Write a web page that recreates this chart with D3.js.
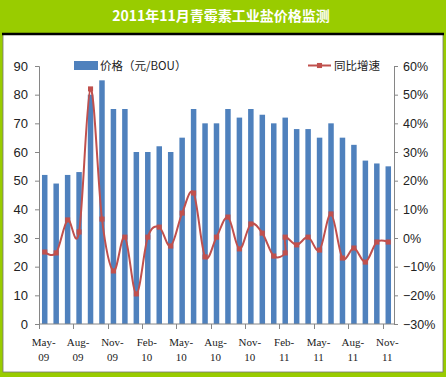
<!DOCTYPE html>
<html>
<head>
<meta charset="utf-8">
<script src="https://cdn.jsdelivr.net/npm/d3@7"></script>
<style>
  body { margin: 0; padding: 0; background: #fff; }
  svg { display: block; }
</style>
</head>
<body>
<div id="chart"></div>
<script>

var title = "2011年11月青霉素工业盐价格监测";

var months = ["May-09","Jun-09","Jul-09","Aug-09","Sep-09","Oct-09","Nov-09","Dec-09",
              "Jan-10","Feb-10","Mar-10","Apr-10","May-10","Jun-10","Jul-10","Aug-10",
              "Sep-10","Oct-10","Nov-10","Dec-10","Jan-11","Feb-11","Mar-11","Apr-11",
              "May-11","Jun-11","Jul-11","Aug-11","Sep-11","Oct-11","Nov-11"];

// 价格 (元/BOU), left axis
var price = [52, 49, 52, 53, 80, 85, 75, 75,
             60, 60, 62, 60, 65, 75, 70, 70,
             75, 72, 75, 73, 70, 72, 68, 68,
             65, 70, 65, 62.5, 57, 56, 55];

// 同比增速 (%), right axis -- Feb-11 shows two points in the source
var growthMonths = ["May-09","Jun-09","Jul-09","Aug-09","Sep-09","Oct-09","Nov-09","Dec-09",
              "Jan-10","Feb-10","Mar-10","Apr-10","May-10","Jun-10","Jul-10","Aug-10",
              "Sep-10","Oct-10","Nov-10","Dec-10","Jan-11","Feb-11","Feb-11","Mar-11","Apr-11",
              "May-11","Jun-11","Jul-11","Aug-11","Sep-11","Oct-11","Nov-11"];
var growth = [-4.9, -5.2, 6.3, 2.1, 52, 6.6, -11.5, 0.3,
              -19.5, 0.3, 3.8, -2.8, 8.7, 15.7, -6.6, 0.3,
              7.3, -3.8, 4.9, 1.7, -6.3, -5.2, 0.3, -2.4, 0.3,
              -4.2, 8.4, -7.0, -3.5, -8.4, -1.4, -1.4];

var leftTicks = [0, 10, 20, 30, 40, 50, 60, 70, 80, 90];
var rightTicks = [-30, -20, -10, 0, 10, 20, 30, 40, 50, 60];

var legendNames = ["价格（元/BOU）", "同比增速"];

var W = 446, H = 377;
var green = "#99cc00", barColor = "#4f81bd", lineColor = "#c0504d", axisColor = "#868686";
var plot = {left: 39, right: 394, top: 66, bottom: 324};

var svg = d3.select("#chart").append("svg")
  .attr("width", W)
  .attr("height", H);

svg.append("rect").attr("width", W).attr("height", H).attr("fill", green);
svg.append("rect")
  .attr("x", 3).attr("y", 34).attr("width", 440).attr("height", 338)
  .attr("fill", "#fff").attr("stroke", "#777").attr("stroke-width", 0.8);
svg.append("line")
  .attr("x1", 2).attr("x2", 444).attr("y1", 34).attr("y2", 34)
  .attr("stroke", "#000").attr("stroke-width", 2.5);

svg.append("text")
  .attr("x", 221).attr("y", 21)
  .attr("text-anchor", "middle")
  .style("font-family", "'Noto Sans CJK SC', sans-serif")
  .style("font-size", "14px")
  .style("font-weight", "bold")
  .attr("fill", "#fff")
  .text(title);

var x = d3.scaleBand()
  .domain(months)
  .range([plot.left, plot.right])
  .paddingInner(0.52)
  .paddingOuter(0.26);

var yL = d3.scaleLinear().domain([0, 90]).range([plot.bottom, plot.top]);
var yR = d3.scaleLinear().domain([-30, 60]).range([plot.bottom, plot.top]);

var numFont = "'Liberation Sans', Arial, sans-serif";

// left axis
var leftAxis = svg.append("g")
  .attr("transform", "translate(" + plot.left + ",0)")
  .call(d3.axisLeft(yL).tickValues(leftTicks).tickSize(4).tickPadding(7));
leftAxis.selectAll("text").style("font-family", numFont).style("font-size", "13px").attr("fill", "#222");

// right axis
var rightAxis = svg.append("g")
  .attr("transform", "translate(" + plot.right + ",0)")
  .call(d3.axisRight(yR).tickValues(rightTicks).tickSize(4).tickPadding(5)
    .tickFormat(function(d) { return d3.format("d")(d) + "%"; }));
rightAxis.selectAll("text").style("font-family", numFont).style("font-size", "12.5px").attr("fill", "#222");

[leftAxis, rightAxis].forEach(function(g) {
  g.select(".domain").attr("stroke", axisColor);
  g.selectAll(".tick line").attr("stroke", axisColor);
});

// bars
svg.append("g").selectAll("rect")
  .data(price)
  .enter()
  .append("rect")
  .attr("x", function(d, i) { return x(months[i]); })
  .attr("width", x.bandwidth())
  .attr("y", function(d) { return yL(d); })
  .attr("height", function(d) { return yL(0) - yL(d); })
  .attr("fill", barColor);

// x axis
var step = x.step();
var labelMonths = months.filter(function(d, i) { return i % 3 == 0; });
var xg = svg.append("g");
xg.append("line")
  .attr("x1", plot.left).attr("x2", plot.right)
  .attr("y1", plot.bottom).attr("y2", plot.bottom)
  .attr("stroke", axisColor);
xg.selectAll(".xtick")
  .data(labelMonths)
  .enter()
  .append("line")
  .attr("x1", function(d) { return Math.round(x(d) - step * 0.26) + 0.5; })
  .attr("x2", function(d) { return Math.round(x(d) - step * 0.26) + 0.5; })
  .attr("y1", plot.bottom).attr("y2", plot.bottom + 5)
  .attr("stroke", axisColor);
var xl = xg.selectAll(".xlab")
  .data(labelMonths)
  .enter()
  .append("text")
  .attr("text-anchor", "middle")
  .style("font-family", "'Liberation Serif', serif")
  .style("font-size", "11px")
  .attr("fill", "#222");
xl.append("tspan")
  .attr("x", function(d) { return x(d) + x.bandwidth() / 2 - 1; })
  .attr("y", 346)
  .text(function(d) { return d.split("-")[0] + "-"; });
xl.append("tspan")
  .attr("x", function(d) { return x(d) + x.bandwidth() / 2 - 1; })
  .attr("y", 361)
  .text(function(d) { return d.split("-")[1]; });

// growth line
var pts = growth.map(function(v, i) {
  return [x(growthMonths[i]) + x.bandwidth() / 2, yR(v)];
});
svg.append("path")
  .attr("d", d3.line().curve(d3.curveCardinal.tension(0))(pts))
  .attr("fill", "none")
  .attr("stroke", lineColor)
  .attr("stroke-width", 2);
svg.append("g").selectAll("path")
  .data(pts)
  .enter()
  .append("path")
  .attr("transform", function(d) { return "translate(" + d[0] + "," + d[1] + ")"; })
  .attr("d", d3.symbol(d3.symbolSquare, 26))
  .attr("fill", lineColor);

// legend
var cjk = "'Noto Sans CJK SC', sans-serif";
svg.append("rect")
  .attr("x", 74).attr("y", 61).attr("width", 24).attr("height", 9)
  .attr("fill", barColor);
svg.append("text")
  .attr("x", 100).attr("y", 70)
  .style("font-family", cjk).style("font-size", "11.5px")
  .attr("fill", "#222")
  .text(legendNames[0]);
svg.append("line")
  .attr("x1", 308).attr("x2", 331).attr("y1", 65.5).attr("y2", 65.5)
  .attr("stroke", lineColor).attr("stroke-width", 2);
svg.append("path")
  .attr("transform", "translate(319.5,65.5)")
  .attr("d", d3.symbol(d3.symbolSquare, 26))
  .attr("fill", lineColor);
svg.append("text")
  .attr("x", 334).attr("y", 70)
  .style("font-family", cjk).style("font-size", "11.5px")
  .attr("fill", "#222")
  .text(legendNames[1]);

</script>
</body>
</html>
